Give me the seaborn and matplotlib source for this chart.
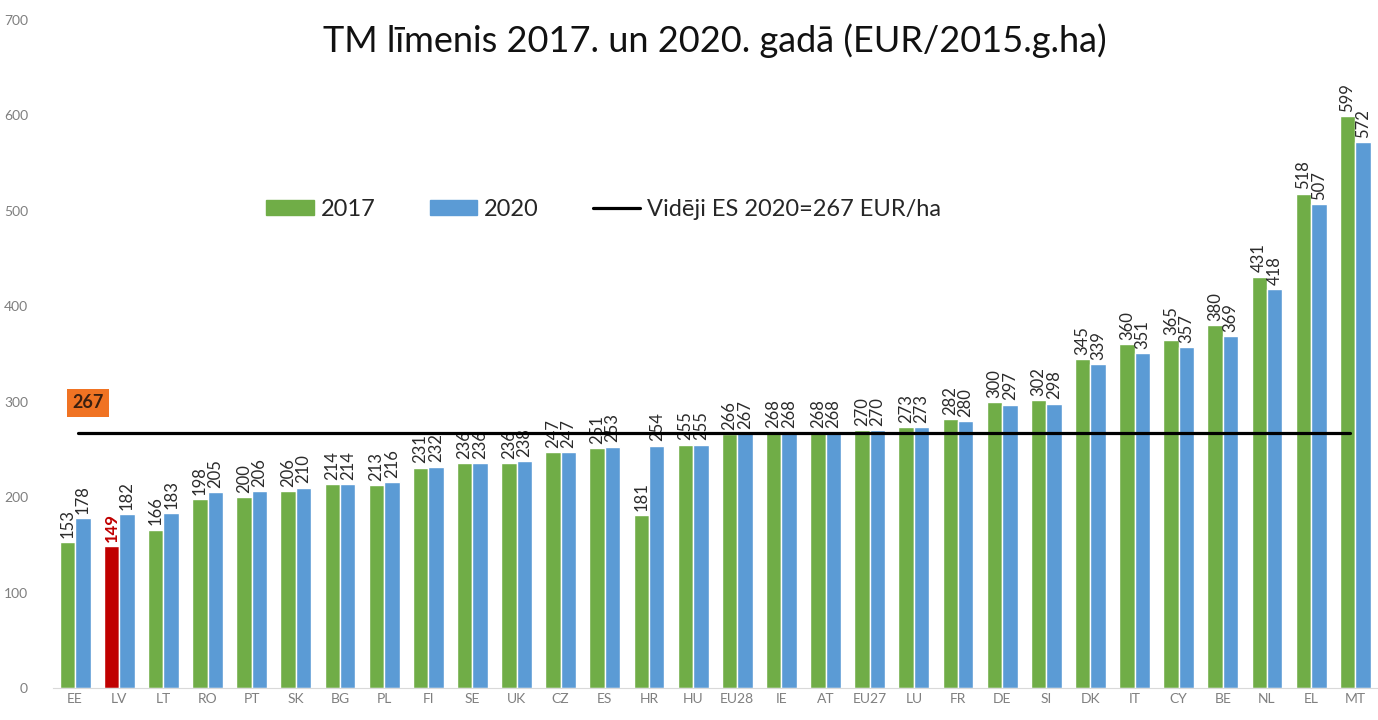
import pandas as pd
import matplotlib
matplotlib.use("Agg")
import matplotlib.pyplot as plt
from matplotlib.patches import Patch
from matplotlib.lines import Line2D
import seaborn as sns

# Dati
valstis = ["EE", "LV", "LT", "RO", "PT", "SK", "BG", "PL", "FI", "SE", "UK", "CZ", "ES", "HR", "HU",
           "EU28", "IE", "AT", "EU27", "LU", "FR", "DE", "SI", "DK", "IT", "CY", "BE", "NL", "EL", "MT"]
v2017 = [153, 149, 166, 198, 200, 206, 214, 213, 231, 236, 236, 247, 251, 181, 255,
         266, 268, 268, 270, 273, 282, 300, 302, 345, 360, 365, 380, 431, 518, 599]
v2020 = [178, 182, 183, 205, 206, 210, 214, 216, 232, 236, 238, 247, 253, 254, 255,
         267, 268, 268, 270, 273, 280, 297, 298, 339, 351, 357, 369, 418, 507, 572]
gadi = ["2017", "2020"]
videji_es = 267

zals = "#70ad47"
zils = "#5b9bd5"
sarkans = "#c00000"

df = pd.DataFrame({
    "valsts": valstis * 2,
    "gads": [gadi[0]] * len(valstis) + [gadi[1]] * len(valstis),
    "vertiba": v2017 + v2020,
})

sns.set_style("white")
plt.rcParams["font.family"] = ["Lato", "DejaVu Sans"]

fig = plt.figure(figsize=(13.78, 7.2), dpi=100)
ax = fig.add_axes([0.0385, 0.0444, 0.961, 0.928])

sns.barplot(data=df, x="valsts", y="vertiba", hue="gads", palette=[zals, zils],
            width=0.7, saturation=1, ax=ax, legend=False)

# LV 2017 stabiņš sarkans
ax.containers[0][1].set_facecolor(sarkans)

# Vērtību uzraksti virs stabiņiem
for cont in ax.containers:
    texts = ax.bar_label(cont, rotation=90, padding=3, fontsize=12, color="#2b2b2b")
    if cont is ax.containers[0]:
        texts[1].set_color(sarkans)
        texts[1].set_fontweight("bold")

# Vidējā līnija
ax.plot([0.07, 28.87], [videji_es, videji_es], color="black", lw=2.3, zorder=5)

# 267 lodziņš
ax.text(0.3, 299, str(videji_es), ha="center", va="center", fontsize=13, fontweight="bold",
        color="#3b2010", bbox=dict(boxstyle="square,pad=0.3", fc="#f07323", ec="none"))

ax.set_xlim(-0.5, 29.5)
ax.set_ylim(0, 700)
ax.set_yticks(range(0, 701, 100))
ax.set_xlabel("")
ax.set_ylabel("")
ax.tick_params(axis="both", labelsize=10, colors="#7f7f7f", length=0)
ax.tick_params(axis="y", pad=18)
sns.despine(ax=ax, left=True)
ax.spines["bottom"].set_color("#d9d9d9")

handles = [Patch(color=zals), Patch(color=zils), Line2D([0], [0], color="black", lw=2.3)]
labels = ["2017", "2020", "Vidēji ES 2020=267 EUR/ha"]
ax.legend(handles, labels, loc="center", bbox_to_anchor=(0.416, 0.716), ncol=3, frameon=False,
          fontsize=17, handlelength=2.0, handleheight=0.6, columnspacing=2.3, handletextpad=0.3)

fig.text(0.519, 0.944, "TM līmenis 2017. un 2020. gadā (EUR/2015.g.ha)", ha="center", va="center",
         fontsize=26, color="#111111")

fig.savefig("out.png", dpi=100)
